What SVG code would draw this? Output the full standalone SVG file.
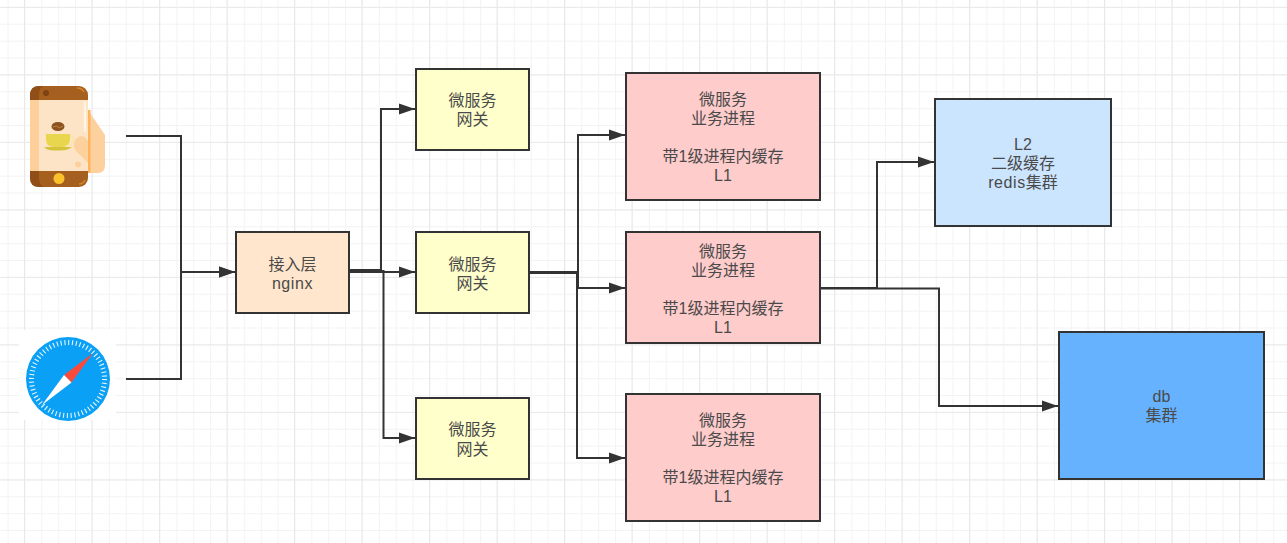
<svg xmlns="http://www.w3.org/2000/svg" width="1287" height="543" viewBox="0 0 1287 543">
<defs>
<pattern id="gridMinor" width="16.875" height="16.875" x="7.6" y="6.9" patternUnits="userSpaceOnUse"><path d="M0.5 0V16.875M0 0.5H16.875" fill="none" stroke="#f3f3f3" stroke-width="1"/></pattern>
<pattern id="gridMajor" width="67.5" height="67.5" x="24" y="6.9" patternUnits="userSpaceOnUse"><path d="M0.5 0V67.5M0 0.5H67.5" fill="none" stroke="#e9e9e9" stroke-width="1"/></pattern>
<marker id="arrow" markerUnits="userSpaceOnUse" markerWidth="17" markerHeight="12" refX="16" refY="6" orient="auto"><path d="M0 0.5L16 6L0 11.5L0 6Z" fill="#333"/></marker>
</defs>
<style>
.box{stroke:#333;stroke-width:2}
.wire{fill:none;stroke:#333;stroke-width:2}
text{font-family:"Liberation Sans","Noto Sans CJK SC",sans-serif;font-size:16px;fill:#4a4a4a;text-anchor:middle}
.wide{letter-spacing:0.600px}
</style>
<rect width="1287" height="543" fill="#fff"/>
<rect width="1287" height="543" fill="url(#gridMinor)"/>
<rect width="1287" height="543" fill="url(#gridMajor)"/>

<g id="connectors">
<path class="wire" d="M126 136H181V272H235" marker-end="url(#arrow)"/>
<path class="wire" d="M126 379H181V272H235" marker-end="url(#arrow)"/>
<path class="wire" d="M350 270H381V109H415" marker-end="url(#arrow)"/>
<path class="wire" d="M350 272H415" marker-end="url(#arrow)"/>
<path class="wire" d="M350 271H383.500V438H415" marker-end="url(#arrow)"/>
<path class="wire" d="M529 272H578V135H625" marker-end="url(#arrow)"/>
<path class="wire" d="M529 273H578V288H625" marker-end="url(#arrow)"/>
<path class="wire" d="M529 272H577V458H625" marker-end="url(#arrow)"/>
<path class="wire" d="M820 288H877V162H934" marker-end="url(#arrow)"/>
<path class="wire" d="M820 288.500H939V406H1058" marker-end="url(#arrow)"/>
</g>

<g id="phone-client">
<path d="M88 110L105 135V165Q105 173 98 173H88Z" fill="#fdd19e"/>
<rect x="30" y="86" width="58" height="101" rx="9" fill="#a5601f"/>
<path d="M30 100V95Q30 86 39 86H44Q39 87 39 95V100ZM30 171H39V178Q39 185 44 187H39Q30 187 30 178Z" fill="#8f4f17"/>
<rect x="30" y="100" width="58" height="71" fill="#fee4c6"/>
<rect x="30" y="100" width="9" height="71" fill="#fdcf9a"/>
<circle cx="46" cy="93" r="3" fill="#7d4312"/>
<path d="M77 88Q82 88 84 92" fill="none" stroke="#d8862c" stroke-width="1.500"/>
<path d="M79 184Q83 184 85 180" fill="none" stroke="#d8862c" stroke-width="1.500"/>
<rect x="84" y="102" width="2" height="30" fill="#fff6e8"/>
<rect x="88" y="110" width="2.500" height="63" fill="#fdb45c"/>
<ellipse cx="58" cy="126.500" rx="6.500" ry="4.500" fill="#8c5220"/>
<path d="M53 127Q58 125 58 127T63 126" fill="none" stroke="#c98f4e" stroke-width="0.800"/>
<path d="M46 134H70V141Q68 147 62 147H54Q46 147 46 139Z" fill="#e8d64e"/>
<path d="M70 136Q75 136 74 141Q72 145 66 146" fill="none" stroke="#f2e9a0" stroke-width="1.300"/>
<path d="M44 147H72Q68 150.500 60 150.500H54Q47 150.500 44 147Z" fill="#d4c33c"/>
<circle cx="59" cy="178.500" r="5.500" fill="#fbc02d"/>
<circle cx="78" cy="164.500" r="3" fill="#fdcf9a"/>
<path d="M80 136Q85 136 88 141V163L75 150Q71 141 80 136Z" fill="#fdd19e"/>
</g>

<g id="browser-client">
<rect x="19" y="330" width="97" height="90" fill="#fff"/>
<circle cx="68" cy="379" r="42" fill="#0aa0f5"/>
<circle cx="68" cy="379" r="36.500" fill="none" stroke="#e6f5fe" stroke-width="5" stroke-dasharray="1.100 2.720"/>
<path d="M93 353L71.500 382.500L64 375Z" fill="#fa4a3c"/>
<path d="M42 405L64 375L71.500 382.500Z" fill="#fff"/>
</g>

<g id="nginx">
<rect class="box" x="236" y="232" width="113" height="81" fill="#ffe6cc"/>
<text x="292.500" y="270">接入层</text><text class="wide" x="292.500" y="289">nginx</text>
</g>
<g id="gateway-1">
<rect class="box" x="416" y="69" width="113" height="81" fill="#ffffcc"/>
<text x="472.500" y="106">微服务</text><text x="472.500" y="125">网关</text>
</g>
<g id="gateway-2">
<rect class="box" x="416" y="232" width="113" height="81" fill="#ffffcc"/>
<text x="472.500" y="270">微服务</text><text x="472.500" y="289">网关</text>
</g>
<g id="gateway-3">
<rect class="box" x="416" y="398" width="113" height="81" fill="#ffffcc"/>
<text x="472.500" y="435">微服务</text><text x="472.500" y="455">网关</text>
</g>
<g id="service-1">
<rect class="box" x="626" y="73" width="194" height="127" fill="#ffcccc"/>
<text x="723" y="105">微服务</text><text x="723" y="124">业务进程</text><text x="723" y="162">带1级进程内缓存</text><text x="723" y="181">L1</text>
</g>
<g id="service-2">
<rect class="box" x="626" y="232" width="194" height="111" fill="#ffcccc"/>
<text x="723" y="257">微服务</text><text x="723" y="276">业务进程</text><text x="723" y="314">带1级进程内缓存</text><text x="723" y="333">L1</text>
</g>
<g id="service-3">
<rect class="box" x="626" y="394" width="194" height="127" fill="#ffcccc"/>
<text x="723" y="426">微服务</text><text x="723" y="445">业务进程</text><text x="723" y="483">带1级进程内缓存</text><text x="723" y="502">L1</text>
</g>
<g id="redis">
<rect class="box" x="935" y="99" width="176" height="127" fill="#cce5ff"/>
<text x="1023" y="150">L2</text><text x="1023" y="169">二级缓存</text><text x="1023" y="188"><tspan class="wide">redis</tspan>集群</text>
</g>
<g id="db">
<rect class="box" x="1059" y="332" width="205" height="147" fill="#66b2ff"/>
<text x="1161.500" y="402">db</text><text x="1161.500" y="421">集群</text>
</g>
</svg>
